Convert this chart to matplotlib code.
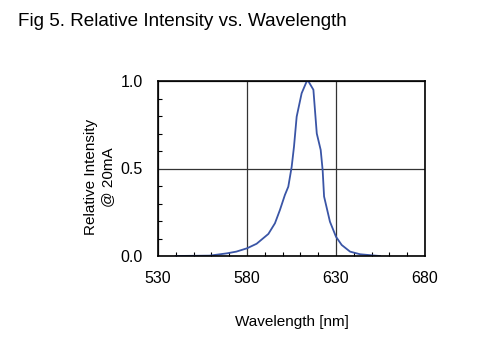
import matplotlib
matplotlib.use("Agg")
import matplotlib.pyplot as plt
from matplotlib.ticker import MultipleLocator

plt.rcParams['font.family'] = ['Liberation Sans', 'DejaVu Sans']

wavelength = [540, 559, 568.6, 574, 580, 585.4, 592, 595.7, 598.5, 601.3, 603.2, 605.1,
              606.4, 607.9, 610.7, 613.5, 614.4, 617.3, 619.2, 621.4, 622.5, 623.3,
              626.6, 630, 633.2, 637.9, 643.5, 651, 654.7]
intensity = [0.0, 0.002, 0.015, 0.025, 0.044, 0.07, 0.126, 0.187, 0.263, 0.349, 0.396, 0.51,
             0.625, 0.796, 0.93, 0.997, 1.0, 0.95, 0.70, 0.606, 0.49, 0.34,
             0.196, 0.11, 0.063, 0.025, 0.01, 0.003, 0.0]
x_ticks = [530, 580, 630, 680]
y_ticks = [0.0, 0.5, 1.0]
y_tick_labels = ["0.0", "0.5", "1.0"]

fig = plt.figure(figsize=(4.78, 3.45), dpi=100)
ax = fig.add_axes([158/478, 1 - 256/345, (425-158)/478, (256-81)/345])

ax.plot(wavelength, intensity, color='#3a55a6', lw=1.3)
ax.set_xlim(530, 680)
ax.set_ylim(0, 1.0)
ax.set_xticks(x_ticks)
ax.set_yticks(y_ticks)
ax.set_yticklabels(y_tick_labels)
ax.xaxis.set_minor_locator(MultipleLocator(10))
ax.yaxis.set_minor_locator(MultipleLocator(0.1))
ax.tick_params(which='both', direction='in', labelsize=11.5, colors='black')
ax.tick_params(axis='x', which='major', length=0, pad=11)
ax.tick_params(axis='y', which='major', length=0, pad=11)
ax.tick_params(which='minor', length=3, width=0.8)
ax.grid(True, which='major', color='#333333', lw=0.9)
for s in ax.spines.values():
    s.set_linewidth(1.2)
    s.set_color('black')

ax.set_xlabel('Wavelength [nm]', fontsize=11, labelpad=21)
ax.set_ylabel('Relative Intensity\n@ 20mA', fontsize=11, labelpad=10, linespacing=1.3)
ax.yaxis.set_label_coords(-0.16, 0.45)

fig.text(18/478, 1 - 22/345, 'Fig 5. Relative Intensity vs. Wavelength', fontsize=13.6, va='center', ha='left')

fig.savefig('out.png', dpi=100)
